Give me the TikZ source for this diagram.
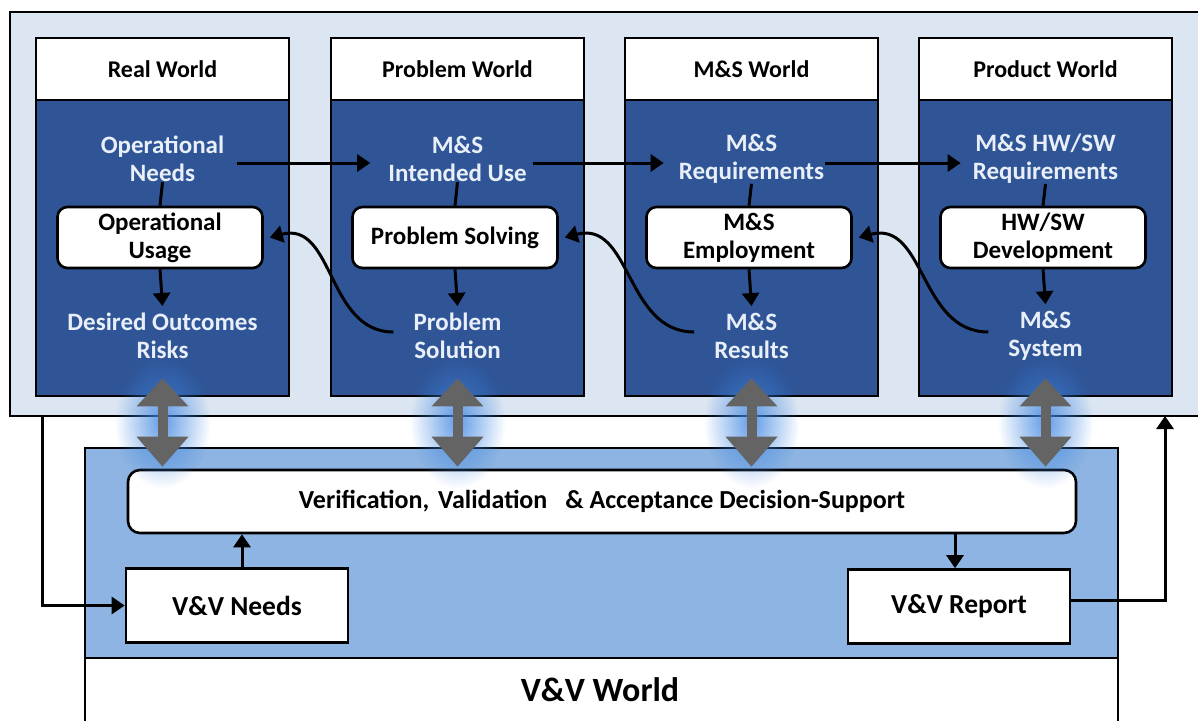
\documentclass[tikz,border=0pt]{standalone}
\usepackage{fontspec}
\setmainfont{Carlito}
\usetikzlibrary{arrows.meta,fadings}
\definecolor{panelbg}{HTML}{DCE6F2}
\definecolor{colblue}{HTML}{2F5597}
\definecolor{vvblue}{HTML}{8DB4E2}
\definecolor{coltext}{HTML}{E9EFF8}
\definecolor{arrgrey}{HTML}{646464}
\definecolor{glowc}{HTML}{3D85E0}
\tikzfading[name=glowfade, inner color=transparent!10, outer color=transparent!100]
\begin{document}
\begin{tikzpicture}[x=1pt,y=-1pt,
  frame/.style={draw=black,line width=2.6pt},
  colbody/.style={frame,fill=colblue,minimum width=253,minimum height=296,inner sep=0},
  header/.style={frame,fill=white,minimum width=253,minimum height=62,inner sep=0,
     font=\bfseries\fontsize{24}{28}\selectfont},
  ctext/.style={inner sep=0,align=center,text=coltext,font=\bfseries\fontsize{25}{28}\selectfont},
  ibox/.style={frame,fill=white,rounded corners=10pt,minimum width=205,minimum height=61,inner sep=0,
     align=center,font=\bfseries\fontsize{25}{28}\selectfont},
  wbox/.style={frame,fill=white,minimum width=222,minimum height=74,inner sep=0,
     font=\bfseries\fontsize{27.5}{30}\selectfont},
  conn/.style={draw=black,line width=3pt},
  tip/.style={-{Triangle[width=17pt,length=13pt]}},
  dbl/.style={draw=arrgrey,line width=10pt,
     {Triangle[width=50pt,length=28pt]}-{Triangle[width=50pt,length=30pt]}},
  glow/.style={fill=glowc,path fading=glowfade,opacity=0.9}]
\useasboundingbox (0,0) rectangle (1198,720);
% top panel
\draw[frame,fill=panelbg] (10,12) rectangle (1210,416);
% bottom V&V world
\draw[frame,fill=white] (85,658) rectangle (1118,730);
\draw[frame,fill=vvblue] (85,448) rectangle (1118,658);
\node[inner sep=0,font=\bfseries\fontsize{34}{38}\selectfont] (vvw) at (600,690) {V\&V World};
% columns
\foreach \cx/\n in {162.5/1,457.5/2,751.5/3,1045.5/4}{
  \node[colbody] (c\n) at (\cx,248) {};
  \node[header] (h\n) at (\cx,69) {};
}
\node[header,draw=none,fill=none] at (h1) {Real World};
\node[header,draw=none,fill=none] at (h2) {Problem World};
\node[header,draw=none,fill=none] at (h3) {M\&S World};
\node[header,draw=none,fill=none] at (h4) {Product World};
% column contents
\node[ctext] (t1) at (162.5,159) {Operational\\Needs};
\node[ctext] (t2) at (457.5,159) {M\&S\\Intended Use};
\node[ctext] (t3) at (751.5,159) {M\&S\\Requirements};
\node[ctext] (t4) at (1045.5,159) {M\&S HW/SW\\Requirements};
\node[ibox] (b1) at (160,237.5) {Operational\\Usage};
\node[ibox] (b2) at (455,237.5) {Problem Solving};
\node[ibox] (b3) at (749,237.5) {M\&S\\Employment};
\node[ibox] (b4) at (1043,237.5) {HW/SW\\Development};
\node[ctext] (d1) at (162.5,336) {Desired Outcomes\\Risks};
\node[ctext] (d2) at (457.5,336) {Problem\\Solution};
\node[ctext] (d3) at (751.5,336) {M\&S\\Results};
\node[ctext] (d4) at (1045.5,336) {M\&S\\System};
\foreach \n in {1,2,3,4}{
  \draw[conn] (t\n.south) -- (b\n.north);
  \draw[conn,tip] (b\n.south) -- ([yshift=7pt]d\n.north);
}
\draw[conn,tip] ([shift={(13pt,-4pt)}]t1.east) -- ([shift={(-18pt,-4pt)}]t2.west);
\draw[conn,tip] ([shift={(6pt,-4pt)}]t2.east) -- ([shift={(-15pt,-4pt)}]t3.west);
\draw[conn,tip] ([shift={(1pt,-4pt)}]t3.east) -- ([shift={(-12pt,-4pt)}]t4.west);
\draw[conn,tip] ([shift={(-20pt,4pt)}]d2.west) to[out=180,in=15,looseness=1.1] ([xshift=6pt]b1.east);
\draw[conn,tip] ([shift={(-20pt,4pt)}]d3.west) to[out=180,in=15,looseness=1.1] ([xshift=6pt]b2.east);
\draw[conn,tip] ([shift={(-20pt,4pt)}]d4.west) to[out=180,in=15,looseness=1.1] ([xshift=6pt]b3.east);
% V&V boxes
\node[frame,fill=white,rounded corners=12pt,minimum width=948,minimum height=63,inner sep=0,
  font=\bfseries\fontsize{26}{30}\selectfont] (vb) at (602,501.5)
  {Verification,\hspace{3pt} Validation\hspace{12pt} \& Acceptance Decision-Support};
\node[wbox] (vn) at (237,605.5) {V\&V Needs};
\node[wbox] (vr) at (959,606.5) {V\&V Report};
\draw[conn,tip] ([xshift=5pt]vn.north) -- ([xshift=5pt]vn.north |- vb.south);
\draw[conn,tip] ([xshift=-4pt]vr.north |- vb.south) -- ([xshift=-4pt]vr.north);
\coordinate (lstart) at (42,416);
\coordinate (rend) at (1165,416);
\draw[conn,tip] (lstart) |- (vn.west);
\draw[conn,tip] ([yshift=6pt]vr.east) -| (rend);
% glows and double arrows
\foreach \n in {1,2,3,4}{
  \path[glow] ([yshift=-25pt]c\n.south) ellipse [x radius=48, y radius=66];
}
\foreach \n in {1,2,3,4}{
  \draw[dbl] ([yshift=19pt]c\n.south) -- ([yshift=2pt]c\n.south |- vb.north);
}
\end{tikzpicture}
\end{document}
